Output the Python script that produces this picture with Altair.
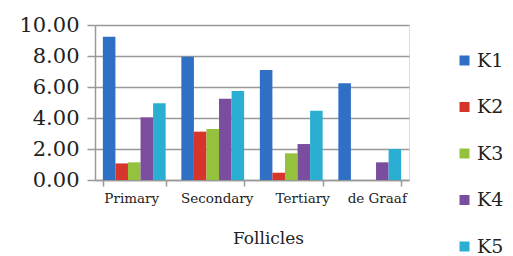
import altair as alt
import pandas as pd

categories = ["Primary", "Secondary", "Tertiary", "de Graaf"]
series = ["K1", "K2", "K3", "K4", "K5"]
values = {
    "K1": [9.25, 7.95, 7.10, 6.24],
    "K2": [1.07, 3.12, 0.47, 0.0],
    "K3": [1.14, 3.29, 1.72, 0.0],
    "K4": [4.04, 5.25, 2.32, 1.14],
    "K5": [4.95, 5.74, 4.47, 2.00],
}
colors = ["#2f6fc4", "#d5352b", "#94c23d", "#7b4d9f", "#2aaed2"]

rows = []
for s in series:
    for c, v in zip(categories, values[s]):
        rows.append({"Follicle": c, "Series": s, "Value": v})
df = pd.DataFrame(rows)

font = "DejaVu Serif"

label_shift = ("datum.value == 'Primary' ? -3 : datum.value == 'Secondary' ? 4 : "
               "datum.value == 'Tertiary' ? 11 : 7")

chart = alt.Chart(df).mark_bar().encode(
    x=alt.X("Follicle:N", sort=categories,
            scale=alt.Scale(paddingInner=0.2, paddingOuter=0.1),
            axis=alt.Axis(title="Follicles", labelAngle=0, tickBand="extent",
                          labelFont=font, labelFontSize=13.5, labelColor="#222",
                          labelOffset=alt.ExprRef(label_shift),
                          titleFont=font, titleFontSize=17, titleFontWeight="normal",
                          titleColor="#222", titleX=173, titleY=58, titleAlign="center",
                          titleBaseline="middle",
                          domainColor="#999", domainWidth=1.5, tickColor="#999",
                          tickWidth=1.5, tickSize=6, labelPadding=5)),
    xOffset=alt.XOffset("Series:N", sort=series, scale=alt.Scale(paddingInner=0, paddingOuter=0)),
    y=alt.Y("Value:Q", scale=alt.Scale(domain=[0, 10], nice=False),
            axis=alt.Axis(title=None, values=[0, 2, 4, 6, 8, 10], format=".2f",
                          labelFont=font, labelFontSize=21, labelColor="#222",
                          gridColor="#999", gridWidth=1.5, domainColor="#999",
                          domainWidth=1.5, tickColor="#999", tickWidth=1.5,
                          tickSize=8, labelPadding=8)),
    color=alt.Color("Series:N", sort=series,
                    scale=alt.Scale(domain=series, range=colors),
                    legend=alt.Legend(title=None, orient="none", legendX=360, legendY=26,
                                      symbolType="square", symbolSize=100,
                                      symbolStrokeWidth=0, labelFont=font,
                                      labelFontSize=19, labelColor="#222",
                                      rowPadding=26.5, labelOffset=3)),
).properties(
    width=314, height=155,
    autosize=alt.AutoSizeParams(type="none"),
    padding={"left": 87, "top": 17, "right": 96, "bottom": 78},
).configure_view(stroke=None).configure(background="white")

chart.save("out.html", embed_options={"renderer": "svg", "actions": False})
